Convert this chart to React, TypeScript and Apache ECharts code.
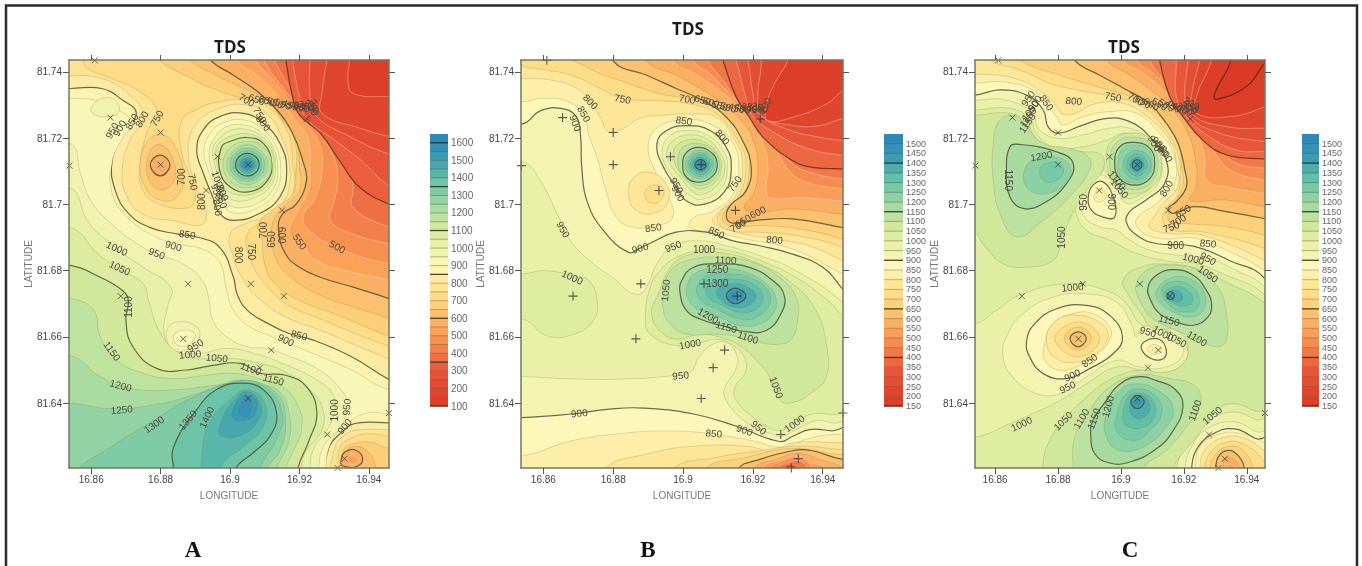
import React, { useEffect, useRef } from "react";
import * as echarts from "echarts";

// Contours. Points are [lon, lat] in thousandths above 16.8 E / 81.6 N.
// A region is [contour level, side (1 = inside is above the level, -1 = below), points].
const LON0 = 16.8, LAT0 = 81.6, UNIT = 0.001;
const LON_TICKS = [16.86, 16.88, 16.9, 16.92, 16.94];
const LAT_TICKS = [81.64, 81.66, 81.68, 81.7, 81.72, 81.74];
const LEVELS_A = [100,150,200,250,300,350,400,450,500,550,600,650,700,750,800,850,900,950,1000,1050,1100,1150,1200,1250,1300,1350,1400,1450,1500,1550,1600];
const LEVELS_BC = [150,200,250,300,350,400,450,500,550,600,650,700,750,800,850,900,950,1000,1050,1100,1150,1200,1250,1300,1350,1400,1450,1500];
const BAR_TICKS_A = [100,200,300,400,500,600,700,800,900,1000,1100,1200,1300,1400,1500,1600];
const STATIONS = [[61,143.5],[65.5,126.2],[80,121.7],[53.7,111.7],[80,112],[96.4,114.4],[105.2,112],[93.1,104.2],[115,98.2],[122.1,125.8],[87.9,76],[106,76],[115.5,72.3],[68.5,72.3],[86.5,59.4],[111.9,56],[108.6,50.7],[105.2,41.4],[145.8,37],[128,30.5],[133,23.2],[131,20.4]];

const REGIONS_A: any[] = [
[850,-1,[[40,135],[54,135],[63,135],[69,131.5],[73,127.5],[69,121],[66,113],[67,104],[71,97],[77,93],[85,91],[91,90],[97,87],[101,78],[102,73],[105,68],[111,64],[117,61],[124,59],[135,54],[146,47],[160,40],[160,160],[40,160]]],
[850,-1,[[128,10],[128,25],[133,32],[137,34],[146,34],[160,34],[160,10]]],
[800,-1,[[40,139],[54,139],[63,138],[70,134],[75,127],[71,119],[69,111],[70,103],[75,97],[84,95],[92,94],[93,99],[90,106],[88,116],[90,124],[97,129],[105,130],[111,127],[115,120],[117,113],[117,105],[115,100],[112,97],[104,94],[100,91],[101,84],[104,77],[109,71],[116,66],[126,62],[135,58],[146,53],[160,45],[160,160],[40,160]]],
[800,-1,[[130,10],[130,26],[134,31],[138,32],[146,32],[160,32],[160,10]]],
[750,-1,[[50,150],[57,144],[59,141],[66,138],[74,134],[79,128],[76,121.5],[74,111],[75,104],[80,100],[88,99],[90,102],[89,107],[86,116],[86,125],[90,128.5],[97,131],[106,131.5],[112,128.5],[117,121],[118,113],[118.5,105],[116,99],[110,95],[105,91],[106,83],[111,75],[117,69.5],[127,65],[136,61],[146,57],[160,50],[160,160],[50,160]]],
[750,-1,[[131.2,10],[131.2,20],[131.7,26.7],[134.5,29.2],[139.3,30.7],[145.8,30],[160,28],[160,10]]],
[700,-1,[[70,155],[79,144],[88,138.5],[95,135],[104,132],[112.5,130.5],[117,123.5],[119,117.5],[119,110],[118,103],[113,99],[108,94],[109,91],[110,82],[113,76],[120,71],[130,67],[146,60],[160,54],[160,160],[70,160]]],
[700,-1,[[132.2,10],[132.2,20],[132.6,25.7],[135.5,27.7],[140.3,28.2],[145.8,26.2],[160,22],[160,10]]],
[700,-1,[[74.1,112.4],[76.5,119.4],[80.8,121],[84.7,116.4],[86.6,108.3],[84.7,102.3],[79.9,101.3],[75.5,105.3]]],
[650,-1,[[80,155],[88,144],[96,139],[103,135.5],[110.5,131.5],[115,125.5],[119,119.5],[120,111.5],[120,104],[115,99],[112.5,95],[112,89],[114,82],[118,77.6],[125,73],[135.5,69],[146,65.5],[160,60],[160,160],[80,160]]],
[650,-1,[[133,10],[133,20],[132.6,23.7],[135,26.7],[139.3,25.7],[142.2,20],[143,10]]],
[650,-1,[[76,111.9],[77.5,116.9],[80.3,117.9],[83.2,114.4],[84.2,108.3],[81.8,104.8],[78.9,104.8],[76.5,107.8]]],
[600,-1,[[88,155],[94,144],[101,139],[108,134],[113.5,128.5],[118,121.5],[121,113],[122,107],[119,100],[115,97],[114,92],[116,85],[120,81],[126,78],[135.5,75],[146,71.5],[160,66],[160,160],[88,160]]],
[600,-1,[[131.9,22.2],[133.1,25.2],[136.4,25.7],[138.2,22.7],[136,20.7],[132.6,21]]],
[600,-1,[[77,111.9],[79.9,114.9],[82.7,111.9],[79.9,108.6]]],
[550,-1,[[133.6,23],[135,24.2],[136.9,23],[135.5,21.5]]],
[550,-1,[[95,155],[101.5,144],[109,138],[113.5,133],[118,126.5],[122.5,119.5],[123,111],[122.5,104],[119,97],[117,91],[120,89],[125,83],[135.5,79.5],[146,77],[160,72],[160,160],[95,160]]],
[500,-1,[[102,155],[107,144],[112.5,137.5],[117,131.5],[122,124.5],[126,117.5],[126.5,110],[124.5,102],[121,96],[124,91],[131,87],[138,84],[146,82],[160,78],[160,160],[102,160]]],
[450,-1,[[105,155],[109.5,144],[115,135.5],[120,129.5],[125,122.5],[130,114],[131,107],[130,101],[129,95],[135.5,91],[146,88],[160,84],[160,160],[105,160]]],
[400,-1,[[108,155],[112.5,144],[117,135.5],[121,128.5],[126,122.5],[134,113.5],[135.5,105],[135.5,99],[146,93],[160,88],[160,160],[108,160]]],
[350,-1,[[114,155],[116,144],[118,132.5],[120,127],[126,121.5],[132,112.5],[137.5,105],[146,100],[160,94],[160,160],[114,160]]],
[300,-1,[[117,155],[118,144],[120,132.5],[122,126],[130,119.5],[137.5,113.5],[146,105.5],[160,98],[160,160],[117,160]]],
[250,-1,[[123,155],[123,144],[123,133.5],[124.5,127],[134.5,120.5],[146,115],[160,110],[160,160],[123,160]]],
[200,-1,[[130,155],[128,144],[126.5,133.5],[126.5,127.5],[137.5,123],[146,120.5],[160,118],[160,160],[130,160]]],
[150,-1,[[135,155],[134.5,144],[134,137.5],[135.5,133.5],[146,132.5],[160,132],[160,160],[135,160]]],
[900,1,[[40,132],[54,132],[63,131],[70,127],[72,124.5],[68.7,119.5],[66,112.5],[66,103.5],[70,96.5],[77,91],[85,88],[92,86.5],[97,82.5],[99,74],[101,68],[105,63.5],[111,60.5],[117,58],[125,54.5],[135,50],[146,44],[165,41],[146,37],[139.5,37],[134,34],[129.5,29],[127.5,20],[127.5,10],[40,10]]],
[950,1,[[60,129],[63,132],[67,131.5],[68,128],[65,126.5],[61,127]]],
[950,1,[[40,118],[54,118.4],[57,109],[60,101],[67,93],[75,87],[79,85],[86.5,82],[92,77],[94,71],[95,65],[99,60],[105,57],[110.5,56.5],[116,54.5],[125,50.5],[132,44],[134,39],[132,33],[127,27],[125.5,20],[125,10],[40,10]]],
[1000,1,[[40,105],[54,105],[59,95],[67,87],[75,81],[83,75],[82,69],[81,61],[84,56],[91,55],[99,56.5],[107,55],[115,52],[125,47],[130,42],[130,37],[128,32],[124,26],[123,20],[122,10],[40,10]]],
[1000,-1,[[81.8,62],[84.7,64.5],[90.4,63],[90.9,59],[87.5,56],[83.2,56.4]]],
[950,-1,[[83.7,60],[86.1,62],[89.9,61],[88.5,58],[85.1,57.4]]],
[1050,1,[[40,93],[54,93],[62,85],[68,80.5],[75,76],[76.5,71],[80,61],[85.6,55],[93,53.4],[101,53.4],[108.6,52],[116,49.4],[124,43],[127,37],[126,31],[121.6,25],[120.6,20],[120,10],[40,10]]],
[1100,1,[[40,82],[54,81.6],[62.6,78],[69,74],[70.7,71],[70,65],[72,57],[79,50.4],[87.5,50],[95,51.4],[103,52],[108.6,49],[116,48.4],[122,45],[125,37],[122.5,28],[119.5,20],[119,10],[40,10]]],
[1150,1,[[40,72],[54,71.6],[60.7,68],[62.6,60],[67.4,53],[75,49],[83.7,47.4],[93,48.4],[101,49],[109.6,47],[115,45],[119.7,39],[120.6,32],[118,25],[116,20],[115,10],[40,10]]],
[1200,1,[[40,55],[54,54.4],[62.6,48],[72,44.3],[83.7,44],[93,45],[101,46],[109.6,45.4],[114.4,43.3],[117,37],[117,28.7],[113.4,20],[112,10],[40,10]]],
[1250,1,[[40,40],[54,40],[65.5,38.3],[77,39.3],[87.5,41.8],[96,44.8],[104,47],[113.4,43],[116,35],[114.4,25.7],[110.6,20],[110,10],[40,10]]],
[1300,1,[[48,10],[56,20],[65.5,26.7],[78,34.8],[87.5,40.8],[101,46.3],[109.6,45.3],[115,37],[113.4,29],[108.6,20],[108,10]]],
[1350,1,[[83.7,10],[83.7,20],[83.7,26.7],[90.4,38],[96,44],[103,46],[109.6,44],[113.4,37],[111.5,30],[106.7,25],[101.5,20],[100,10]]],
[1400,1,[[92.4,15],[92,25],[94,34],[100,41],[105,44],[110,40],[109.6,33],[104,27],[98,22],[95,15]]],
[1450,1,[[97,33],[100.5,40],[105,43.5],[109,39],[107.7,34],[102.4,30],[97.6,30]]],
[1500,1,[[100.5,37],[103.4,42],[106.7,42],[107.7,38],[105.3,35],[101.5,35]]],
[1550,1,[[103,39],[105,42],[106,40],[105.3,36],[103,36.4]]],
[850,1,[[90.4,116.4],[92.3,122.5],[97,126.5],[104,127.5],[109.6,124.5],[114.4,118.4],[116.3,110.4],[114.4,102.4],[108.6,97.3],[101,95.2],[97,97.3],[95,102.3],[92.3,109.4]]],
[900,1,[[92.5,116],[94,121],[98,124.6],[104,125.5],[109,123],[113,118],[114.6,110.5],[113,103.5],[108,99],[102,97.3],[98.6,99],[96.6,103.4],[94,109.5]]],
[950,1,[[94,116],[95.5,120],[98.5,123.2],[104,124],[109,121.7],[112.3,117.5],[113.8,110.5],[112.3,104.4],[108,100.4],[102,99],[99,100.6],[97.5,104],[95,109.6]]],
[1000,1,[[95,116.6],[97,120],[100,122.3],[104.4,122.7],[109,120.7],[112,117],[113.2,111],[111.6,105.5],[107,102],[102,101],[99.3,102.5],[97,106],[96,110.4]]],
[1050,1,[[96,117],[98.4,119.7],[101,120.8],[104.6,121.4],[109.3,119.5],[112,116],[112.6,111.5],[111,106],[106,103],[101.5,103],[99,104.5],[97,107.5],[96.6,110.5]]],
[1100,1,[[97.6,117.4],[100,119],[104.8,120.2],[109.6,118.4],[112,112.4],[110.5,106.8],[105.3,103.8],[100,105.3],[97,110.4]]],
[1150,1,[[112,112],[110,117],[105,119],[100,117],[98,112],[100,107],[105,105],[110,107]]],
[1200,1,[[111,112],[109,116],[105,118],[101,116],[99,112],[101,108],[105,106],[109,108]]],
[1250,1,[[110,112],[108.5,115.5],[105,117],[101.5,115.5],[100,112],[101.5,108.5],[105,107],[108.5,108.5]]],
[1300,1,[[109.2,112],[108,115],[105,116.2],[102,115],[100.8,112],[102,109],[105,107.8],[108,109]]],
[1350,1,[[108.4,112],[107.4,114.4],[105,115.4],[102.6,114.4],[101.6,112],[102.6,109.6],[105,108.6],[107.4,109.6]]],
[1400,1,[[107.8,112],[105,114.8],[102.2,112],[105,109.2]]],
[1450,1,[[107.2,112],[105,114.2],[102.8,112],[105,109.8]]],
[1500,1,[[106.6,112],[105,113.6],[103.4,112],[105,110.4]]],
[1550,1,[[106,112],[105,113],[104,112],[105,111]]],
];

const REGIONS_B: any[] = [
[850,-1,[[40,131],[54,131],[60,132],[67,131],[71.6,127],[73,121],[75.4,114],[78,104],[81,96],[86,93],[92.5,93.6],[97,96],[96,102],[92.5,109],[90,117],[92.5,123],[100,125.5],[107.7,124.3],[114,119],[116,111],[114.3,103],[108.6,98],[103,96],[102,93],[109.6,91.5],[118,89.5],[131.4,86.5],[145.7,79],[160,72],[160,160],[40,160]]],
[850,-1,[[40,24],[54,24.1],[68,28.6],[84,31],[95.3,31.6],[106.2,31],[112.4,30],[120,28.6],[127.6,26.6],[131.4,27.6],[137,29.6],[145.7,30.6],[160,30],[160,10],[40,10]]],
[800,-1,[[40,138],[54,138],[63,137.4],[69.7,135],[74,130.3],[76.3,126.3],[78.7,122],[83,123],[87.7,126],[95.3,127],[102,127.3],[109.6,126.3],[114.3,120.3],[117,113],[115.3,103],[109.6,97],[108.6,94.6],[115.3,91.6],[126.2,89.5],[136,87.5],[145.7,83],[160,76],[160,160],[40,160]]],
[800,-1,[[75,10],[77.3,20],[89.6,24.6],[103,27],[118,27],[125.7,25.6],[131.4,28],[145.7,28],[160,28],[160,10]]],
[800,-1,[[84.4,103],[85.8,108],[90.6,109.7],[95.3,106],[95.8,101],[92.5,97.6],[86.8,98]]],
[750,-1,[[89,103],[91,105.7],[94.4,104.7],[93.4,101],[90.6,100.6]]],
[750,-1,[[48,150],[54,142],[58.3,141],[68,139],[76.3,135],[82.7,132],[93.4,131.3],[102,130.3],[109.6,127.3],[115.7,119.3],[118,112.2],[115.7,102],[111,98],[110,94.6],[114.3,92],[122,91.6],[132.4,90.6],[145.7,87],[160,80],[160,160],[48,160]]],
[750,-1,[[95,10],[97,20],[109.6,23.6],[122,25.6],[133.3,27],[145.7,26],[160,26],[160,10]]],
[700,-1,[[60,150],[74.4,140.4],[82,137.4],[93.4,133.4],[101,132],[109.6,129.3],[117,120.3],[119,111.2],[116.7,102],[112.4,98.6],[111.5,95],[115.3,93.3],[122,93.6],[133.3,92.6],[145.7,89.5],[160,84],[160,160],[60,160]]],
[700,-1,[[104,10],[106.2,20],[118,23.6],[131.4,26.3],[145.7,24.4],[160,24],[160,10]]],
[650,-1,[[76,155],[80,143.3],[89.6,139],[98,135],[105.8,131.3],[112.4,126.3],[117,119.3],[119.5,111.2],[118,104],[113.8,100],[112.4,97],[113.4,94.6],[117,94.6],[122,95.3],[131.4,95.6],[145.7,93],[160,90],[160,160],[76,160]]],
[650,-1,[[113,10],[115.7,20],[122,23],[131.4,25.6],[137,25.6],[145.7,23],[160,22],[160,10]]],
[600,-1,[[85,155],[89.6,143.3],[98,139],[105.8,134.4],[111.5,130.3],[117,125],[120.5,118.2],[121.4,111.2],[120.5,104],[117.6,99],[121,97.6],[131.4,98.6],[145.7,97],[160,95],[160,160],[85,160]]],
[600,-1,[[118,10],[120,20],[126.7,23],[133,24.8],[139,23],[145.7,20],[150,10]]],
[550,-1,[[92,155],[97.2,143.3],[104,139],[109.6,135],[115.3,130],[120,124.3],[123.3,117.2],[124.3,111.2],[123.8,105],[124.8,102],[134.3,102],[145.7,101],[160,100],[160,160],[92,160]]],
[550,-1,[[121,10],[122.4,20],[128,23],[133,24],[137,22],[141,20],[142,10]]],
[500,-1,[[98,155],[103,143.3],[107.7,139.4],[112.4,134.4],[118,128.3],[122,123.3],[126.7,116.2],[130.5,110],[135.2,106.7],[145.7,104.7],[160,103],[160,160],[98,160]]],
[500,-1,[[123,10],[124.8,20],[129,22.7],[133.4,23.5],[137,20],[138,10]]],
[450,-1,[[103,155],[107.2,143.3],[111.5,137.4],[116.2,130.3],[120,125.3],[124.8,120.3],[131.4,112.2],[138,109.2],[145.7,107.7],[160,106],[160,160],[103,160]]],
[450,-1,[[125,10],[126.7,20],[130,22],[133.4,22.5],[135.7,20],[136,10]]],
[400,-1,[[108,155],[111.5,143.3],[115.3,132.3],[119,126.3],[122.9,120.3],[131.4,113.2],[137,111.2],[145.7,110.7],[160,110],[160,160],[108,160]]],
[400,-1,[[128,16],[129,20],[130.5,21],[132.4,20],[133,16]]],
[350,-1,[[112,155],[115.3,143.3],[118,132.3],[120,126.8],[126.7,121.3],[136.2,116.7],[145.7,114.7],[160,112],[160,160],[112,160]]],
[300,-1,[[116,155],[118.6,143.3],[120,133.4],[121.4,127.8],[129.5,122.8],[139,120.3],[145.7,119.3],[160,118],[160,160],[116,160]]],
[250,-1,[[122,155],[122.4,143.3],[121.4,132.3],[122.4,126.8],[131.4,123.8],[139,123.8],[145.7,125.8],[160,128],[160,160],[122,160]]],
[200,-1,[[135,155],[130,143.3],[125.7,135.4],[123.8,129.3],[124.3,125.3],[131.4,126.3],[141,130.3],[145.7,134.4],[160,145],[160,160],[135,160]]],
[900,1,[[40,124],[54,124.3],[59.2,128.3],[65,129],[69.2,126.8],[70.6,121.3],[71,111.2],[72.5,101],[77.3,92],[84.4,85.5],[87.7,86.8],[91,88.5],[98,91.6],[106.7,91.6],[114.3,89],[122,87.5],[131.4,85],[140,81],[145.7,74.4],[165,50],[145.7,32.6],[136.2,32],[131.4,30],[127.6,28.4],[115.3,33],[103,36.7],[88.7,38.5],[79,38.2],[68,36.7],[54,35.6],[40,35.6]]],
[950,1,[[40,113],[54,113],[59.2,107],[64,97],[67.8,89],[74.4,82],[81,77],[84,74],[87.7,73],[90,76],[92.5,82],[97.2,87.5],[104.8,89],[112.4,87.5],[122,84.5],[131.4,80.5],[145.7,70.4],[165,50],[145.7,34.5],[138,34.7],[132.4,32],[128.6,30],[125.7,30.6],[120,33],[115.3,36.7],[112,41.7],[112,44.7],[115.3,50.8],[115.3,54.8],[112.4,58.3],[108.6,57.8],[104.8,54.3],[102,49.3],[97.2,48.3],[84,47.3],[68,47.3],[54,48],[40,48]]],
[1000,1,[[40,79],[54,79],[60.2,80],[68.3,78.5],[73,77],[75.4,71],[74.4,65],[68.7,60.8],[61,60.3],[54,65.4],[40,65]]],
[1000,1,[[90.6,75],[93.4,80],[98.2,84],[106.2,86.5],[113.4,86],[121,83.5],[131.4,78.5],[141,71.4],[145.7,66.4],[165,50],[145.7,37.2],[137,36.7],[131.9,34],[129,32],[125.7,32],[120,35.7],[115.3,40.7],[114.8,44.7],[118,49.8],[117,54.8],[113.8,57.8],[109.6,59.3],[105.3,58.3],[98.2,57.3],[90.6,60.8],[89.2,65.9]]],
[1050,1,[[92.5,72],[97.2,82],[103,85],[111.5,85.3],[122,82],[131.4,76],[138,68],[141,58],[141,47.8],[136.2,42.7],[131.4,40.2],[128,40.7],[124.8,47.8],[122,51.8],[117,56.8],[112.4,59.3],[104.8,60.8],[98.2,59.3],[93.4,61.8],[91,66.9]]],
[1100,1,[[94.4,73],[95.8,79],[101,83],[111.5,84],[120,82.5],[127.6,78],[132.4,72],[132.8,65],[131,59.3],[127.6,57.8],[122,58.3],[117,59.8],[109.6,60.8],[101,60.8],[96.3,63.9],[94.4,67.9]]],
[1150,1,[[99.6,77],[103,81],[110.5,82],[119,81],[125.7,77],[129,72.4],[128,66.9],[123.8,61.9],[117,61.7],[112.4,63],[104.8,65.4],[101,67.9],[99.2,72.9]]],
[1200,1,[[101,75],[104,79.5],[110.5,80.5],[118,79.5],[124.8,75],[126.7,71],[125.7,66.9],[122,63.9],[116.2,63.4],[110.5,65.9],[104,68.4],[101.5,71.4]]],
[1250,1,[[104,75],[106.7,78.5],[112.4,79],[119,78],[124.3,74],[124.8,70],[121,65.9],[116.2,65.4],[110.5,67.9],[105.3,70.9]]],
[1300,1,[[106.7,75],[109.6,77],[114.3,77.5],[120,76],[122.9,72.4],[121,68.4],[116.2,67.4],[111.5,69.4],[107.2,71.9]]],
[1350,1,[[109.6,74],[114.3,76],[119.5,74.4],[121,72],[118.6,69.4],[114.8,69],[111,71]]],
[1400,1,[[112.4,72.4],[114.8,74.7],[118,72.4],[115,70]]],
[1450,1,[[113.2,72.4],[115.3,74],[117.2,72.4],[115.3,71]]],
[900,1,[[92.5,118.2],[95.3,122.3],[101,123.8],[107.7,122.3],[112.4,117.2],[113.8,111.2],[112,104],[105.8,100],[101,101],[98.2,105],[94.4,111.2]]],
[950,1,[[94,116],[96.3,120.8],[101.5,122.3],[107.2,120.8],[111.5,116.2],[112.7,111.2],[111,105],[105.8,101.6],[102,102.6],[99,106],[95.3,111.2]]],
[1000,1,[[95.3,115.7],[97.2,119.3],[102,121],[107.2,119.5],[110.5,115.7],[112,111.2],[110,106],[105.3,103],[102.5,104],[99.6,107.7],[96.3,112.2]]],
[1050,1,[[97.2,115.7],[98.6,118.2],[103,119.6],[107.2,118.2],[110,115.2],[111,111.7],[109.6,107.2],[105.3,104.7],[102.5,105.7],[99.6,109.2],[97.7,112.2]]],
[1100,1,[[98.6,114.2],[100,117.2],[103.9,118.4],[108.2,116.7],[110.5,112.2],[109,107.7],[105,105.7],[101.5,107.2],[99,110.2]]],
[1150,1,[[99.9,112],[101,115.7],[104.6,117.2],[108.6,115.2],[109.8,112],[108.6,108.7],[104.6,106.7],[101,108.2]]],
[1200,1,[[109.3,112],[108,115],[105,116.3],[102,115],[100.7,112],[102,109],[105,107.7],[108,109]]],
[1250,1,[[108.6,112],[107.5,114.5],[105,115.6],[102.5,114.5],[101.4,112],[102.5,109.5],[105,108.4],[107.5,109.5]]],
[1300,1,[[108,112],[105,115],[102,112],[105,109]]],
[1350,1,[[107.3,112],[105,114.3],[102.7,112],[105,109.7]]],
[1400,1,[[106.6,112],[105,113.6],[103.4,112],[105,110.4]]],
[1450,1,[[106,112],[105,113],[104,112],[105,111]]],
];

const REGIONS_C: any[] = [
[850,-1,[[40,136.6],[53.5,136.6],[62.5,137],[72,134.6],[75.3,131.5],[79.5,126.5],[81.6,124],[88,126.5],[96.4,128],[105,127.5],[111.3,122.5],[116.6,115.4],[117,106.3],[111.3,100.3],[105,95.7],[106,92.2],[112.3,89.7],[124,89.7],[134.6,85.7],[145.7,80],[160,70],[160,160],[40,160]]],
[850,-1,[[122,10],[123.5,20],[125,26.7],[131.4,30.7],[138.8,30.7],[145.7,28.2],[160,25],[160,10]]],
[800,-1,[[40,139.4],[53.5,139.4],[67.8,137.6],[77.4,132],[82.7,127],[92.2,130.5],[100.7,130.5],[107,127.5],[115.5,119.4],[117.8,111.4],[118,105.3],[113.4,100.3],[111.3,97.3],[109,93.2],[115.5,91.2],[126,90.7],[145.7,83],[160,75],[160,160],[40,160]]],
[800,-1,[[124,10],[125,20],[126.6,25.7],[133,29.7],[139.9,29.2],[145.7,25.7],[160,20],[160,10]]],
[750,-1,[[50,150],[58.3,143.5],[67.8,140.6],[77.4,136.6],[85.8,134.6],[97.5,132.5],[106,130],[113.4,123.5],[118,115.4],[118.8,107],[117.6,102.3],[114.4,98.8],[113.4,94.7],[116.6,92.2],[126,91.7],[145.7,86.7],[160,80],[160,160],[50,160]]],
[750,-1,[[126,10],[126.6,20],[128.2,24.7],[133.5,28.2],[139.9,27.2],[145.7,21.7],[150,10]]],
[700,-1,[[60,150],[67.8,143.5],[80.6,139],[92.2,135.6],[105,131.7],[112.3,126.5],[117.6,119.4],[119.3,111.4],[119.7,105.8],[117.6,101.3],[115.5,98.8],[115.5,94.7],[120.8,94.2],[133.5,93.2],[145.7,90.7],[160,86],[160,160],[60,160]]],
[700,-1,[[127,10],[128.2,20],[129.8,24.2],[134,26.9],[138.8,25.7],[142,20],[143,10]]],
[650,-1,[[78,155],[85.3,143.5],[93.3,139],[101.7,134.6],[109,130.5],[114.4,124.5],[118.2,118.4],[120.3,110.4],[120.8,105.3],[117.6,100.8],[115,98.8],[116.6,97.3],[123,99.3],[133.5,97.8],[145.7,95.7],[160,93],[160,160],[78,160]]],
[650,-1,[[129,10],[130.1,20],[130.9,23.7],[134,25.7],[137.2,24.2],[139.3,20],[140,10]]],
[600,-1,[[88,155],[95.4,143.5],[102.8,139],[110.2,134],[115.5,129.5],[120.8,122.5],[123.5,114.4],[124,105.3],[121.9,101.3],[133.5,101.3],[145.7,99.3],[160,97],[160,160],[88,160]]],
[600,-1,[[131,10],[132.5,20],[133,23.2],[135.6,23.2],[137.8,20],[138,10]]],
[550,-1,[[95,155],[100.7,143.5],[107,139.6],[113.4,134.6],[118.7,129],[124,121.5],[126.6,114.4],[127.2,107.3],[133.5,105.3],[145.7,103.3],[160,101],[160,160],[95,160]]],
[550,-1,[[133,10],[134,20],[134.6,21.6],[136.2,20],[137,10]]],
[500,-1,[[100,155],[105,143.5],[110.2,139.6],[116.6,133.5],[121.9,127],[127.7,120],[131.4,113.4],[136.7,109.4],[145.7,107.3],[160,105],[160,160],[100,160]]],
[450,-1,[[105,155],[109.2,143.5],[113.4,137.6],[118.7,129.5],[124,123.5],[130.3,117.4],[136.7,112.4],[145.7,110.9],[160,109],[160,160],[105,160]]],
[400,-1,[[110,155],[112.3,143.5],[115.5,132.5],[119.7,126.5],[126,119.4],[133.5,115],[145.7,113.7],[160,113],[160,160],[110,160]]],
[350,-1,[[117,155],[117.6,143.5],[117.6,132.5],[120.8,126.5],[128.2,120.4],[136.7,116.4],[145.7,116],[160,116],[160,160],[117,160]]],
[300,-1,[[122,155],[121.3,143.5],[120.3,132.5],[121.9,126.5],[131.4,121.5],[145.7,119],[160,118],[160,160],[122,160]]],
[250,-1,[[127,155],[125,143.5],[122.4,132.5],[122.9,127],[133.5,123.5],[145.7,123],[160,123],[160,160],[127,160]]],
[200,-1,[[131,155],[128.8,143.5],[124,132.5],[124,127.5],[134.6,126.5],[145.7,129.5],[160,136],[160,160],[131,160]]],
[150,-1,[[136,152],[135,143.5],[129.8,133.5],[130.3,131.7],[139.9,135.6],[145.7,142.6],[155,152]]],
[900,1,[[40,133],[53.5,133],[61.5,134.6],[70,133],[75.3,128.5],[76.8,123.5],[80,121.5],[88,124],[95.4,126],[102.8,125],[109.2,120.4],[114.4,113.4],[113.9,106.3],[108,101.3],[102.8,97.8],[101.7,94.7],[105,90.7],[111.3,88.2],[123,87.4],[134.6,83],[145.7,77.6],[165,50],[145.7,29.7],[136.2,32.2],[130.3,31.2],[124.5,26.7],[122.4,20],[122,10],[40,10]]],
[950,1,[[40,131.5],[53.5,131.5],[63.6,131.5],[72,127.5],[73.7,123],[79.5,120],[88,121],[96.4,123],[102.8,123],[109.2,119.4],[112.9,113.4],[111.8,106.3],[107,102.3],[101.7,100.3],[98.6,105.3],[94.3,108.8],[89,108.3],[86.9,102.3],[88.5,96.2],[93.3,93.2],[98.6,92.2],[102.8,89.2],[109.2,86.2],[117.6,84.7],[127.7,83.7],[136.7,80],[145.7,75],[165,50],[145.7,31.7],[136.2,34.3],[128.2,32.7],[122.9,27.7],[120.3,20],[120,10],[40,10]]],
[1000,1,[[40,128.5],[53.5,128.5],[64.7,129],[71.5,125.5],[72.6,122],[78.4,117.4],[88,117.4],[95.4,119.4],[101.7,121.5],[107.6,118.4],[111.8,112.9],[110.7,106.8],[106,102.8],[100.7,102.3],[96.4,108.3],[93.3,110.9],[88,111.4],[84.8,105.3],[85.8,97.3],[89,92.2],[96.4,89.2],[105,85.2],[116.6,82.6],[124,82.1],[132.5,79],[145.7,72.6],[165,50],[145.7,35.3],[136.2,37.3],[128.2,34.8],[120.8,27.7],[117.6,20],[117,10],[40,10]]],
[1000,-1,[[40,64],[53.5,64],[60.4,68],[67.8,72.6],[82.7,76],[95.4,74],[101.7,70],[106,64],[111.3,62.5],[116.6,61],[121.3,54.9],[115.5,49.4],[107,49.9],[98.6,50.9],[89,45.8],[80.6,40.8],[72,36.8],[64.7,33.8],[53.5,29.7],[40,30]]],
[950,-1,[[62.5,54.4],[63.6,60],[68.9,67],[78.4,72],[88.9,73],[98.6,70.5],[103.3,64],[104.9,60],[107,63],[112.3,62.5],[117.6,60],[119.7,54.9],[114.4,50.9],[106,50.9],[98.6,52.9],[89,47.9],[80.6,42.8],[72,43.3],[64.7,48.9]]],
[900,-1,[[70,58.8],[72.6,64],[79.5,68.5],[89,69.5],[96.4,66.5],[100.5,60],[97.5,54.9],[90,50.4],[82.7,47.4],[75.3,48.9],[71,53.9]]],
[850,-1,[[75.8,58],[78.4,64],[84.7,67],[91,67],[96.4,63],[96.4,59],[92.2,54.4],[87,51.4],[80.6,49.9],[75.8,52.9]]],
[800,-1,[[76.3,59],[79.5,65],[86.4,66.5],[93.8,64],[95.9,60],[92.2,55],[86.4,52.4],[79.5,53.4]]],
[750,-1,[[79,59.5],[86.4,64.5],[93.3,59.5],[86.4,54]]],
[700,-1,[[82,59.5],[86.4,63],[90.6,59.5],[86.4,56]]],
[650,-1,[[83.8,59.5],[86.4,61.5],[89,59.5],[86.4,57]]],
[900,-1,[[106.5,56.4],[108,58.8],[112.3,59.2],[114.4,56],[113.4,53.4],[109.7,53.4]]],
[850,-1,[[108.3,56.4],[110.7,57.7],[112.9,56],[110.7,54.7]]],
[900,-1,[[89.6,102.3],[91.1,105.8],[94.3,106.8],[97.5,102.3],[98,96.2],[94.3,96.2],[90.6,98.3]]],
[850,-1,[[91.7,103.3],[93.3,104.8],[95.4,102.8],[93.8,100.8],[91.7,101.3]]],
[1050,1,[[40,127],[53.5,127],[64.7,127.5],[70.5,124.5],[72,121],[78.4,116.4],[88,115.9],[93.8,114.9],[94.3,110.4],[90,105.3],[85.8,99.3],[82.7,93.2],[81,88.2],[78.4,83.1],[71,81.1],[62.5,82.1],[56,88.2],[53.5,91.2],[40,91]]],
[1100,1,[[59.4,118.4],[61.5,125.5],[66.8,126.5],[70,123.5],[75.3,118.4],[83.7,116.9],[89.6,114.4],[90,110.4],[83.7,102.3],[75.3,95.2],[66.8,90.2],[61.5,97.3],[59.4,107.3]]],
[1150,1,[[63.6,111.4],[64.7,117.4],[66.8,118.2],[79.5,115.9],[84.8,112.4],[82.7,106.3],[75.3,100.3],[68.9,98.8],[64.7,102.3]]],
[1200,1,[[69.4,110.4],[72,113.4],[78.4,114.4],[83.2,112.4],[83.7,108.3],[79.5,104.3],[73.1,103.3],[69.4,106.3]]],
[1250,1,[[74.2,110.4],[76.3,112.4],[80.6,112.4],[81.6,109.4],[78.4,106.8],[75.3,107.3]]],
[1050,1,[[95.4,113.4],[97.5,119.4],[105,121.5],[110.7,118.4],[112.9,112.4],[111.3,106.8],[105,103.3],[98.6,105.3]]],
[1100,1,[[96.4,112.9],[99,119],[105,120.2],[109.7,118],[111.8,112.4],[109.7,106.8],[105,104.5],[99,106.3]]],
[1150,1,[[98,112.4],[99.6,117.4],[104.4,118.7],[109.2,116.9],[110.7,112.4],[109.2,107.8],[104.4,105.8],[99.6,107.8]]],
[1200,1,[[99,112.4],[100.7,116.9],[104.7,117.9],[108.6,116.4],[109.9,112.4],[108.6,108.3],[104.7,106.5],[100,108.3]]],
[1250,1,[[109.5,112],[108.2,115],[105.1,116.3],[102,115],[100.7,112],[102,108.8],[105.1,107.5],[108.2,108.8]]],
[1300,1,[[108.5,112],[105.1,115.3],[101.7,112],[105.1,108.5]]],
[1350,1,[[107.4,112],[105.1,114.2],[102.8,112],[105.1,109.6]]],
[1400,1,[[106.7,112],[105.1,113.5],[103.5,112],[105.1,110.3]]],
[1450,1,[[106,112],[105.1,112.8],[104.2,112],[105.1,111]]],
[1050,1,[[100.7,77],[106,81],[113.4,82],[123,81],[127.7,79],[134.6,76],[145.7,70],[165,50],[145.7,37.8],[136.2,39.8],[130.9,38.3],[124,29.7],[118.7,23.7],[116.6,20],[116,10],[74,10],[75,20],[76.8,27.7],[82.7,35.8],[89,41.8],[94.3,45.8],[100.7,48.9],[106,49.9],[114.4,49.4],[119.7,51.9],[121.3,56.9],[117.6,62],[110.2,62.5],[106.5,67],[102.8,72]]],
[1100,1,[[104.9,76],[109.2,80.6],[116.6,81.6],[125,80],[131.4,74],[133.5,67],[133.5,59],[130.3,57],[124,59.5],[117.6,62],[110.2,65.5],[106,71]]],
[1150,1,[[108.6,75],[111.3,78.6],[116.6,80.3],[123,78.6],[127.2,74],[128.8,70],[127.7,66],[123,63.5],[117.6,64.5],[112.3,67],[109.2,71.6]]],
[1200,1,[[111.3,74],[116.6,78],[123,77],[126.6,73],[126.1,68],[121.9,66],[116.6,67.5],[112.3,70.5]]],
[1250,1,[[112.9,74],[116,76.6],[121.9,75.6],[124.8,72],[124,68.5],[120.3,67.5],[116,69]]],
[1300,1,[[113.9,73],[116.6,75],[120.3,74.6],[122.9,71.6],[121.3,69.5],[117,70]]],
[1350,1,[[115,72.6],[116,74],[118.7,73.6],[119.7,71.6],[117.6,70.5]]],
[1400,1,[[114.6,72.4],[115.8,73.7],[117,72.4],[115.8,71.2]]],
[1100,1,[[85,10],[84.8,20],[85.3,29.7],[90,37.8],[96.4,44.8],[105,48.4],[115.5,47.4],[124,44.8],[125,38.8],[120.8,32.7],[114.4,25.7],[107,20],[106,10]]],
[1150,1,[[90.4,30.7],[91.7,24.7],[96.4,21.9],[102.8,22.2],[111.3,26.2],[116.6,31.7],[119.7,38.8],[117.6,43.8],[111.3,46.8],[104.9,47.9],[99.1,45.3],[95.4,40.8],[91.1,34.8]]],
[1200,1,[[95.4,29.7],[95.4,36.8],[99.6,43.8],[104.9,45.8],[111.8,43.8],[116.6,38.8],[114.4,32.7],[107,26.7],[99.6,25.7]]],
[1250,1,[[98.6,31.7],[99.1,37.8],[101.7,42.8],[106,44.3],[111.3,41.8],[112.9,36.8],[109.2,31.7],[103.9,28.7]]],
[1300,1,[[100.7,34.8],[102.3,41.8],[106,43],[110.2,40.8],[110.7,35.8],[107,32.7],[102.8,32.7]]],
[1350,1,[[102.8,37.8],[103.9,41.3],[106.5,42.3],[109.2,39.8],[108.6,36.8],[105.4,35.3]]],
[1400,1,[[103.1,40.3],[105.2,42.3],[107.4,40.3],[105.2,38.3]]],
[1450,1,[[104.4,40.5],[105.2,41.2],[106,40.5],[105.2,39.6]]],
];

// Contour labels: [text, lon, lat (same units), rotation in degrees].
const LABELS_A: any[] = [["950",66,122.3,60],["900",68.2,123,60],["850",71.7,125,60],["800",74.6,125.7,60],["750",78.9,126,60],["700",104.8,131.5,-30],["650",107.7,131.7,-20],["600",110.6,131.3,-20],["550",113,130.7,-20],["500",115.3,130.3,-20],["450",117.3,130,-20],["400",119.2,129.7,-20],["350",120.6,129.5,-20],["300",122,129.7,-20],["250",123.5,129.5,-40],["200",124.2,129.3,-80],["750",108.6,127,-60],["800",109.6,124.5,-50],["700",86,108.3,90],["750",89.3,106.8,-80],["800",91.8,100.8,90],["1000",96.6,106.8,-70],["950",96.2,103.8,-70],["900",97.9,103.5,-70],["850",97.6,101.3,-70],["800",96.4,99,-80],["850",87.7,90.9,-8],["900",83.7,87.5,-15],["950",78.9,85.2,-20],["1000",67.4,86.7,-25],["1050",68.2,80.8,-25],["700",109.6,92.2,90],["650",112,89.4,90],["600",114.9,90.7,-90],["550",120.1,88.7,-55],["500",130.9,87.2,-30],["800",102.4,84.7,-90],["750",106.2,85.7,-90],["1100",70.6,69,90],["1150",66,55.7,-55],["1200",68.5,45.3,-15],["1250",68.8,38,5],["1300",78.1,33.5,35],["1350",87.8,34.9,50],["1400",93.3,35.7,65],["950",90,57.4,30],["1000",88.5,54.7,5],["1050",96.2,53.6,-5],["1100",106,50.4,-20],["1150",112.5,47.1,-15],["900",116.1,59,-25],["850",119.9,60.5,-15],["1000",130,37.8,90],["950",133.6,38.8,85],["900",133,33,50]];
const LABELS_B: any[] = [["800",73.5,131,-45],["850",71.6,127.3,-60],["900",69.2,124.5,-70],["750",82.7,131.8,-10],["700",101.2,131.8,-10],["650",105.6,131.5,-15],["600",108,130.8,-15],["550",110.5,129.8,-15],["500",112.9,129.3,-15],["450",115.3,129.1,-15],["400",117,129.1,-15],["350",119,129.1,-15],["300",120.5,129.1,-15],["250",122,129.3,-15],["200",123.5,129.8,60],["850",100.3,125.3,-8],["800",111.3,120.3,-50],["950",98.2,105.7,-60],["900",98.6,103.3,-60],["750",114.8,106.2,55],["600",121.4,97.6,25],["650",117.2,95,30],["700",115.7,93.6,30],["850",91.5,93,8],["850",109.6,91.5,-25],["800",126.2,89.3,-5],["900",87.7,86.8,15],["950",97.2,87.3,20],["1000",106,86.5,0],["1100",112.2,83.2,-3],["950",65.7,92.4,-60],["1000",68.3,78,-25],["1250",109.8,80.2,0],["1300",109.8,76.2,0],["1050",95,74,85],["1200",107.2,66.4,-30],["1150",112.4,63,-15],["1100",118.6,59.8,-18],["1000",102,57.8,10],["950",99.3,48.3,5],["1050",126.7,44.7,-70],["900",70.3,36.9,5],["850",108.8,30.8,-5],["900",117.6,31.8,-20],["950",121.7,32.6,-40],["1000",131.9,33.8,35]];
const LABELS_C: any[] = [["950",70.5,132,55],["900",72.6,130.5,55],["850",76.3,130.7,-55],["1050",71.2,128.3,55],["1100",70.5,126.3,55],["1150",70.2,124.5,55],["800",85,131.2,-5],["750",97.5,132.5,-10],["700",104.7,131.8,-30],["650",107,131,-30],["600",109.7,130.3,-30],["550",112.3,130.3,-30],["500",114.4,130,-30],["450",116.6,129.7,-30],["400",118.7,129,-30],["350",120.3,128.7,-30],["300",121.7,129,-30],["250",122.4,129.5,-30],["200",122.4,130.5,-30],["950",110.7,118.4,-60],["900",111.8,118,-60],["850",113,116.9,-60],["800",114.4,115.2,-60],["1200",74.7,114.6,10],["1150",64.1,107.3,-90],["1100",98.8,107.3,-50],["1050",99.6,104.8,-50],["950",88,100.6,90],["900",97,100.8,-90],["800",114.4,104.8,60],["1050",81,90,90],["650",119.7,98,30],["700",118.2,95,30],["750",116,93.2,20],["900",117.4,87.5,0],["850",127.7,88.2,-5],["1000",123,83.6,-15],["950",127.7,83.6,-30],["1050",127.7,79,-35],["1000",84.6,75,5],["1150",115.3,65,-15],["950",108.6,61.5,-15],["1000",113.4,61,-30],["1050",117.6,59.2,-30],["1100",124.2,59.5,-30],["850",90,52.9,35],["900",84.5,48.4,25],["950",83,44.8,25],["1000",68.4,33.7,25],["1050",81.6,34.6,45],["1100",87.4,35.3,60],["1150",91.4,35.3,70],["1200",95.9,39,75],["1100",123.5,37.8,70],["1050",129,36.3,40]];

const COLOR_STOPS: [number, number[]][] = [[0,[218,58,38]],[0.13,[233,87,58]],[0.26,[249,154,85]],[0.39,[254,216,128]],[0.52,[253,248,186]],[0.65,[215,234,155]],[0.71,[181,224,160]],[0.77,[139,208,164]],[0.84,[98,191,167]],[0.9,[63,159,176]],[1,[43,131,186]]];
function ramp(v: number, lo: number, hi: number) {
  const t = Math.min(1, Math.max(0, (v - lo) / (hi - lo)));
  for (let i = 1; i < COLOR_STOPS.length; i++) {
    const [t1, c1] = COLOR_STOPS[i];
    if (t <= t1) {
      const [t0, c0] = COLOR_STOPS[i - 1];
      const f = (t - t0) / (t1 - t0);
      return `rgb(${c0.map((c, k) => Math.round(c + (c1[k] - c) * f)).join(",")})`;
    }
  }
  return "rgb(43,131,186)";
}
const lonOf = (a: number) => LON0 + a * UNIT;
const latOf = (b: number) => LAT0 + b * UNIT;

const PANELS = [
  { regions: REGIONS_A, labels: LABELS_A, left: 69, width: 320, lo: 100, hi: 1650, heavy: 100, levels: LEVELS_A, barTicks: BAR_TICKS_A, barFont: 10, barLeft: 430, barWidth: 18, titleX: 230, titleY: 46, letter: "A", letterX: 193, mark: "path://M0 0L10 10M10 0L0 10", size: 6 },
  { regions: REGIONS_B, labels: LABELS_B, left: 521, width: 322, lo: 150, hi: 1550, heavy: 150, levels: LEVELS_BC, barTicks: LEVELS_BC, barFont: 9, barLeft: 884, barWidth: 19, titleX: 688, titleY: 28, letter: "B", letterX: 648, mark: "path://M5 0L5 10M0 5L10 5", size: 9 },
  { regions: REGIONS_C, labels: LABELS_C, left: 975, width: 290, lo: 150, hi: 1550, heavy: 150, levels: LEVELS_BC, barTicks: LEVELS_BC, barFont: 9, barLeft: 1302, barWidth: 17, titleX: 1124, titleY: 46, letter: "C", letterX: 1130, mark: "path://M0 0L10 10M10 0L0 10", size: 6 },
];

function buildOption() {
  const grid: any[] = [], xAxis: any[] = [], yAxis: any[] = [], series: any[] = [], graphic: any[] = [];
  const edge = "#77775f";
  const tickStyle = { color: "#555", width: 1 };
  const labelStyle = { color: "#444", fontSize: 10, fontFamily: "Liberation Sans", fontWeight: 500 };
  PANELS.forEach((p, i) => {
    const g = grid.length;
    grid.push({ left: p.left, top: 60, width: p.width, height: 408, show: true, backgroundColor: ramp(875, p.lo, p.hi), borderWidth: 0 });
    const xBase = { type: "value", min: 16.8536, max: 16.9458, gridIndex: g, z: 5, splitLine: { show: false }, axisLine: { show: true, onZero: false, lineStyle: { color: edge, width: 1.5 } } };
    const yBase = { type: "value", min: 81.6204, max: 81.7436, gridIndex: g, z: 5, splitLine: { show: false }, axisLine: { show: true, onZero: false, lineStyle: { color: edge, width: 1.5 } } };
    const xi = xAxis.length, yi = yAxis.length;
    xAxis.push({ ...xBase, position: "bottom", name: "LONGITUDE", nameLocation: "middle", nameGap: 22, nameTextStyle: { color: "#777", fontSize: 10, fontFamily: "Liberation Sans" },
      axisTick: { length: 6, lineStyle: tickStyle, customValues: LON_TICKS }, axisLabel: { ...labelStyle, customValues: LON_TICKS, margin: 6, formatter: (v: number) => String(+v.toFixed(2)) } });
    xAxis.push({ ...xBase, position: "top", axisTick: { length: 5, lineStyle: tickStyle, customValues: LON_TICKS }, axisLabel: { show: false } });
    yAxis.push({ ...yBase, position: "left", name: "LATITUDE", nameLocation: "middle", nameGap: 36, nameRotate: 90, nameTextStyle: { color: "#777", fontSize: 10, fontFamily: "Liberation Sans" },
      axisTick: { length: 6, lineStyle: tickStyle, customValues: LAT_TICKS }, axisLabel: { ...labelStyle, customValues: LAT_TICKS, margin: 7, formatter: (v: number) => String(+v.toFixed(2)) } });
    yAxis.push({ ...yBase, position: "right", axisTick: { length: 6, lineStyle: tickStyle, customValues: LAT_TICKS }, axisLabel: { show: false } });

    series.push({
      type: "custom", name: `contours${p.letter}`, xAxisIndex: xi, yAxisIndex: yi, clip: true, z: 2, silent: true,
      data: p.regions.map((r: any) => [lonOf(r[2][0][0]), latOf(r[2][0][1])]),
      renderItem: (params: any, api: any) => {
        const [lv, side, pts] = p.regions[params.dataIndex];
        const points = pts.map((q: number[]) => api.coord([lonOf(q[0]), latOf(q[1])]));
        const heavy = ((lv - p.heavy) % 250) === 0;
        const warm = lv <= 550;
        return { type: "polygon", shape: { points, smooth: 0.45 }, style: {
          fill: ramp(lv + side * 25, p.lo, p.hi),
          stroke: heavy ? (warm ? "rgba(90,40,25,0.8)" : "rgba(70,72,45,0.8)") : (warm ? "rgba(255,228,205,0.5)" : "rgba(115,118,80,0.3)"),
          lineWidth: heavy ? 1.2 : 0.8 } };
      },
    });
    series.push({
      type: "custom", name: `labels${p.letter}`, xAxisIndex: xi, yAxisIndex: yi, z: 3, silent: true,
      data: p.labels.map((l: any) => [lonOf(l[1]), latOf(l[2])]),
      renderItem: (params: any, api: any) => {
        const l = p.labels[params.dataIndex];
        const c = api.coord([lonOf(l[1]), latOf(l[2])]);
        return { type: "text", x: c[0], y: c[1], rotation: (l[3] * Math.PI) / 180, style: { text: l[0], fill: "#4a4a3c", font: "10px 'Liberation Sans'", align: "center", verticalAlign: "middle" } };
      },
    });
    series.push({
      type: "scatter", name: `stations${p.letter}`, xAxisIndex: xi, yAxisIndex: yi, z: 4, clip: false, silent: true,
      symbol: p.mark, symbolSize: p.size, data: STATIONS.map((s) => [lonOf(s[0]), latOf(s[1])]),
      itemStyle: { color: "none", borderColor: "#333", borderWidth: i === 1 ? 1.1 : 0.9 },
    });

    // colour bar
    const bg = grid.length;
    grid.push({ left: p.barLeft, top: 134, width: p.barWidth, height: 272 });
    const bx = xAxis.length, by = yAxis.length;
    xAxis.push({ type: "value", min: 0, max: 1, gridIndex: bg, show: false });
    yAxis.push({ type: "value", min: p.lo, max: p.hi, gridIndex: bg, position: "right", splitLine: { show: false }, axisLine: { show: false }, axisTick: { show: false },
      axisLabel: { color: "#666", fontSize: p.barFont, fontFamily: "Liberation Sans", margin: 3, customValues: p.barTicks, showMinLabel: true, showMaxLabel: true, hideOverlap: false, formatter: (v: number) => String(v) } });
    series.push({
      type: "custom", name: `bar${p.letter}`, xAxisIndex: bx, yAxisIndex: by, silent: true,
      data: p.levels.map((lv: number) => [0, lv]),
      renderItem: (params: any, api: any) => {
        const lv = p.levels[params.dataIndex];
        const a = api.coord([0, lv + 50]), b = api.coord([1, lv]);
        const heavy = ((lv - p.heavy) % 250) === 0;
        return { type: "group", children: [
          { type: "rect", shape: { x: a[0], y: a[1], width: b[0] - a[0], height: b[1] - a[1] + 0.5 }, style: { fill: ramp(lv + 25, p.lo, p.hi) } },
          { type: "line", shape: { x1: a[0], y1: b[1], x2: b[0], y2: b[1] }, style: { stroke: heavy ? "rgba(50,50,35,0.9)" : "rgba(90,90,60,0.55)", lineWidth: heavy ? 1.3 : 0.8 } },
        ] };
      },
    });
    graphic.push({ type: "text", x: p.titleX, y: p.titleY, style: { text: "TDS", fill: "#1c1c1c", font: "700 17px 'Open Sans'", align: "center", verticalAlign: "middle" } });
    graphic.push({ type: "text", x: p.letterX, y: 549, style: { text: p.letter, fill: "#111", font: "700 23px 'Liberation Serif'", align: "center", verticalAlign: "middle" } });
  });
  graphic.push({ type: "rect", silent: true, shape: { x: 6, y: 5.5, width: 1351, height: 620 }, style: { fill: "none", stroke: "#2b2b2b", lineWidth: 2.5 } });
  return { animation: false, backgroundColor: "#fff", grid, xAxis, yAxis, series, graphic };
}

export default function App() {
  const ref = useRef<HTMLDivElement>(null);
  useEffect(() => {
    const chart = echarts.init(ref.current!, undefined, { renderer: "svg" });
    chart.setOption(buildOption() as any);
    return () => chart.dispose();
  }, []);
  return <div ref={ref} style={{ position: "fixed", left: 0, top: 0, width: 1362, height: 566, filter: "blur(0.45px)" }} />;
}
